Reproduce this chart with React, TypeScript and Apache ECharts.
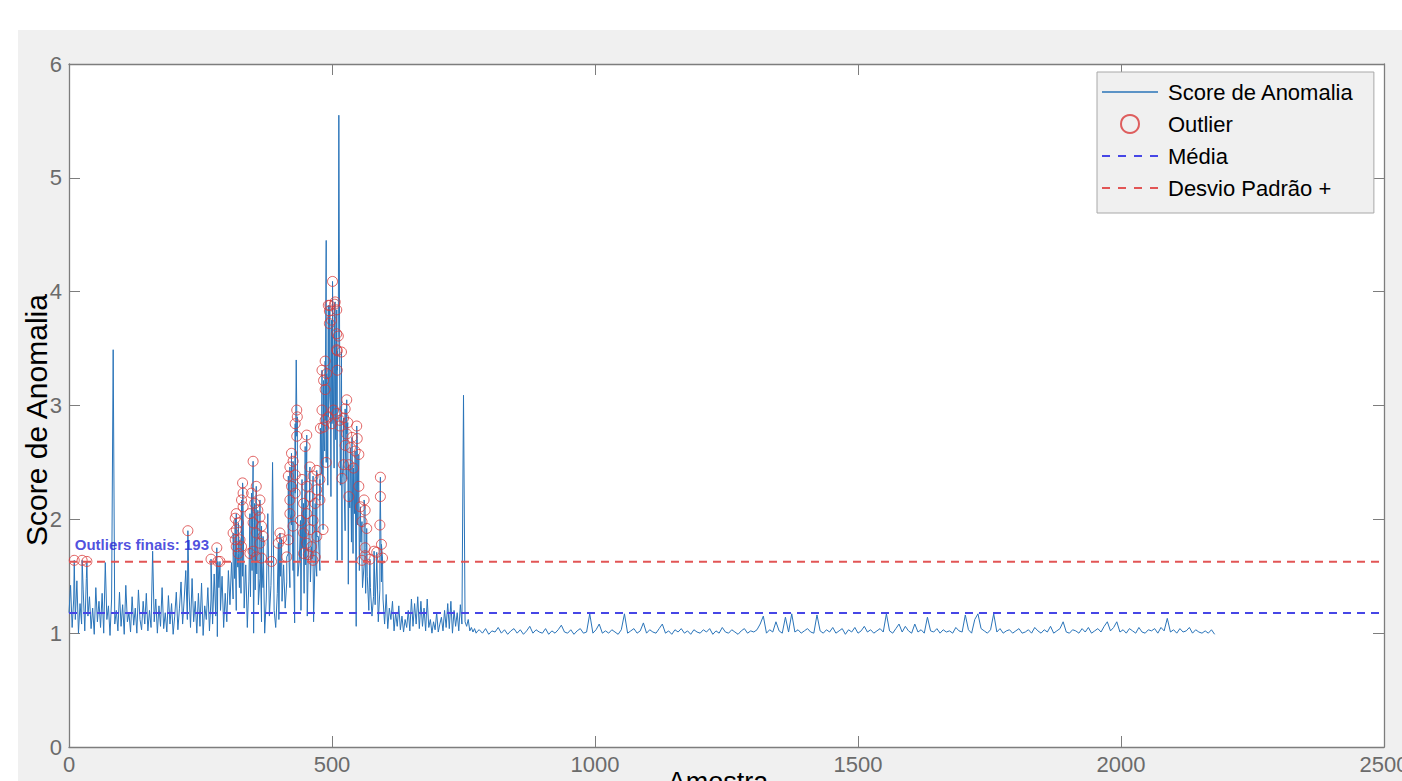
import React, { useEffect, useRef } from "react";
import * as echarts from "echarts";

// ---------- data ----------
const xTickValues = [0, 500, 1000, 1500, 2000, 2500];
const yTickValues = [0, 1, 2, 3, 4, 5, 6];

// Anomaly score, samples 0..777 (every 3rd sample)
const scoreEarlyStart = 0;
const scoreEarlyStep = 3;
const scoreEarly = [
  1.18, 1.42, 1.05, 1.30, 1.12, 1.46, 1.00, 1.26, 1.08, 1.38,
  1.02, 1.48, 1.15, 1.32, 1.04, 1.22, 0.99, 1.40, 1.10, 1.28,
  1.05, 1.35, 1.00, 1.62, 1.12, 1.24, 0.98, 1.30, 3.49, 1.08,
  1.20, 1.02, 1.36, 1.06, 1.25, 0.99, 1.42, 1.10, 1.18, 1.01,
  1.32, 1.07, 1.22, 1.00, 1.38, 1.12, 1.03, 1.28, 1.08, 1.35,
  1.02, 1.20, 1.05, 1.72, 1.10, 1.30, 1.00, 1.24, 1.06, 1.40,
  1.04, 1.18, 1.01, 1.33, 1.08, 1.26, 0.99, 1.15, 1.36, 1.03,
  1.22, 1.45, 1.08, 1.30, 1.55, 1.12, 1.38, 1.05, 1.48, 1.10,
  1.28, 1.00, 1.35, 1.06, 1.44, 0.98, 1.24, 1.12, 1.40, 1.02,
  1.30, 1.08, 1.52, 1.15, 0.97, 1.40, 1.20, 1.50, 1.05, 1.35,
  1.10, 1.55, 1.25, 1.62, 1.30, 1.48, 1.20, 1.58, 1.40, 1.35,
  1.50, 1.22, 1.60, 1.05, 1.45, 1.32, 1.55, 1.00, 1.38, 1.52,
  1.25, 1.48, 1.10, 1.40, 1.00, 1.30, 2.05, 1.15, 1.42, 2.50,
  1.20, 1.05, 1.35, 1.12, 1.50, 1.28, 1.60, 1.22, 1.45, 1.70,
  1.40, 1.95, 1.55, 1.09, 3.40, 1.50, 1.65, 1.20, 1.75, 1.35,
  1.60, 1.15, 1.80, 1.45, 1.65, 1.10, 1.70, 1.50, 1.85, 1.55,
  2.40, 1.95, 2.60, 4.45, 2.30, 3.10, 2.20, 2.90, 2.45, 2.70,
  1.64, 5.55, 2.30, 1.64, 2.50, 1.90, 2.35, 1.43, 2.10, 1.80,
  1.70, 2.05, 1.06, 1.95, 1.55, 1.80, 1.40, 1.60, 1.35, 1.50,
  1.20, 1.40, 1.15, 1.32, 1.25, 1.62, 1.10, 1.38, 1.45, 1.30,
  1.08, 1.34, 1.04, 1.22, 1.12, 1.28, 1.02, 1.18, 1.06, 1.24,
  1.03, 1.15, 1.01, 1.12, 1.05, 1.20, 1.02, 1.30, 1.06, 1.26,
  1.08, 1.32, 1.04, 1.28, 1.06, 1.22, 1.02, 1.30, 1.05, 1.12,
  1.00, 1.10, 1.03, 1.18, 1.01, 1.08, 1.14, 1.02, 1.20, 1.05,
  1.26, 1.04, 1.28, 1.00, 1.20, 1.06, 1.18, 1.02, 1.25, 1.08,
  3.09, 1.10, 1.06, 1.12, 1.02, 1.05, 1.01, 1.04, 1.00, 1.02,
];

// Anomaly score, samples 780..2178 (every 6th sample)
const scoreLateStart = 780;
const scoreLateStep = 6;
const scoreLate = [
  1.03, 1.00, 1.04, 0.99, 1.02, 1.01, 1.05, 1.00, 1.03, 0.99,
  1.02, 1.04, 1.00, 1.03, 0.99, 1.02, 1.06, 1.00, 1.03, 1.01,
  1.00, 1.04, 0.99, 1.02, 1.00, 1.03, 1.07, 1.01, 1.00, 1.03,
  0.99, 1.02, 1.04, 1.00, 1.01, 1.17, 1.00, 1.03, 1.08, 1.00,
  1.02, 1.00, 1.03, 1.01, 0.99, 1.03, 1.17, 1.00, 1.02, 1.04,
  1.00, 1.02, 1.09, 1.00, 1.03, 1.01, 1.00, 1.04, 1.08, 1.00,
  1.02, 0.99, 1.03, 1.01, 1.04, 1.00, 1.02, 0.99, 1.03, 1.01,
  1.00, 1.03, 1.01, 1.04, 0.99, 1.02, 1.00, 1.05, 1.01, 1.00,
  1.03, 1.01, 0.99, 1.02, 1.04, 1.00, 1.02, 1.01, 1.03, 1.08,
  1.15, 1.00, 1.03, 1.01, 1.10, 1.02, 1.00, 1.14, 1.01, 1.17,
  1.01, 1.03, 1.00, 1.02, 1.04, 1.01, 1.00, 1.16, 1.02, 1.00,
  1.03, 1.01, 1.05, 1.00, 1.02, 1.04, 0.99, 1.03, 1.01, 1.05,
  1.00, 1.02, 1.06, 1.01, 1.03, 1.00, 1.02, 1.04, 1.01, 1.17,
  1.02, 1.00, 1.04, 1.08, 1.01, 1.06, 1.02, 1.00, 1.08, 1.01,
  1.03, 1.00, 1.14, 1.02, 1.01, 1.04, 1.00, 1.03, 1.01, 1.02,
  1.00, 1.05, 1.02, 1.01, 1.16, 1.03, 1.00, 1.12, 1.17, 1.04,
  1.02, 1.00, 1.03, 1.17, 1.01, 1.04, 1.00, 1.02, 1.03, 1.00,
  1.02, 1.04, 1.00, 1.01, 1.03, 1.00, 1.05, 1.02, 1.00, 1.03,
  1.01, 1.06, 1.00, 1.02, 1.04, 1.10, 1.01, 1.00, 1.03, 1.02,
  1.00, 1.04, 1.01, 1.05, 1.00, 1.02, 1.04, 1.01, 1.06, 1.10,
  1.02, 1.05, 1.10, 1.01, 1.03, 1.00, 1.04, 1.02, 1.00, 1.05,
  1.01, 1.00, 1.03, 1.02, 1.04, 1.00, 1.05, 1.02, 1.13, 1.01,
  1.03, 1.00, 1.04, 1.01, 1.02, 1.05, 1.00, 1.03, 1.01, 1.00,
  1.02, 1.00, 1.03, 0.99,
];

// Outliers: [sample, score]
const outlierPoints: [number, number][] = [
  [10, 1.64], [25, 1.64], [34, 1.63], [226, 1.90], [270, 1.65], [281, 1.75], [283, 1.63], [287, 1.63],
  [312, 1.88], [316, 2.01], [316, 1.82], [318, 2.05], [318, 1.91], [318, 1.76], [322, 1.97], [322, 1.70],
  [325, 1.82], [328, 2.17], [328, 1.76], [330, 2.32], [331, 2.23], [331, 2.11],
  [344, 2.05], [344, 1.70], [347, 2.23], [350, 2.51], [350, 1.97], [350, 1.72], [353, 2.14], [356, 2.29],
  [356, 1.88], [356, 1.67], [359, 2.08], [363, 2.17], [363, 2.02], [363, 1.79], [366, 1.94], [366, 1.66],
  [369, 1.85],
  [385, 1.63], [398, 1.79], [401, 1.88], [404, 1.83], [414, 1.67],
  [417, 2.38], [417, 1.82], [420, 2.46], [420, 2.17], [420, 2.05], [423, 2.58], [423, 2.29], [426, 2.51],
  [426, 1.94], [430, 2.84], [430, 2.39], [430, 2.23], [433, 2.96], [433, 2.73], [434, 2.90],
  [440, 1.99], [443, 2.35], [446, 2.14], [446, 1.88], [446, 1.70], [449, 2.64], [452, 2.74], [452, 2.29],
  [452, 2.05], [452, 1.79], [455, 1.69], [458, 2.46], [458, 2.20], [458, 1.91], [461, 1.76], [464, 2.38],
  [464, 1.99], [464, 1.64], [468, 2.14], [468, 1.67], [471, 2.43], [471, 2.26], [471, 1.85], [477, 2.35],
  [477, 2.17], [478, 2.80], [481, 3.31], [481, 2.96], [483, 1.91], [484, 3.22], [484, 2.81], [487, 3.39],
  [487, 3.14], [487, 2.87], [489, 2.50], [490, 3.28], [493, 3.88], [493, 2.90], [495, 3.83], [495, 3.72],
  [496, 3.88], [499, 3.75], [500, 2.84], [501, 4.09], [503, 2.96], [505, 3.89], [506, 3.91], [509, 3.84],
  [509, 3.63], [509, 3.49], [509, 2.93], [510, 3.48], [510, 3.31], [512, 3.61], [515, 2.87], [515, 2.82],
  [518, 3.47],
  [519, 2.36], [522, 2.89], [522, 2.48], [525, 2.97], [525, 2.65], [528, 3.05], [528, 2.75], [530, 2.85],
  [532, 2.48], [532, 2.20], [535, 2.63], [538, 2.72], [541, 2.45], [544, 2.60], [547, 2.82], [548, 2.71],
  [551, 2.57], [551, 2.29], [554, 2.11], [557, 1.98], [557, 1.64], [561, 2.17], [563, 2.08], [563, 1.75],
  [563, 1.68], [566, 1.92],
  [572, 1.65], [580, 1.72], [585, 1.71], [591, 1.95], [592, 2.37], [592, 2.20], [594, 1.78], [596, 1.66],
];

const meanScore = 1.177;
const stdThreshold = 1.628;
const outlierCount = 193;
const annotationPoint: [number, number] = [10, 1.78];

const legendNames = ["Score de Anomalia", "Outlier", "Média", "Desvio Padrão +"];
const xAxisTitle = "Amostra";
const yAxisTitle = "Score de Anomalia";

// ---------- chart ----------
const FONT = "'Liberation Sans', Arial, Helvetica, sans-serif";
const AXIS_COLOR = "#7d7d7d";
const SOLID_ICON = "path://M0,0h56v1.6h-56z";
const DASH_ICON = "path://M0,0h8v2h-8zM16,0h8v2h-8zM32,0h8v2h-8zM48,0h8v2h-8z";

export default function App() {
  const ref = useRef<HTMLDivElement>(null);

  useEffect(() => {
    if (!ref.current) return;
    const chart = echarts.init(ref.current, undefined, { renderer: "svg" });
    const W = chart.getWidth();
    const H = chart.getHeight();

    const early = scoreEarly.map((v, i) => [scoreEarlyStart + i * scoreEarlyStep, v]);
    const late = scoreLate.map((v, i) => [scoreLateStart + i * scoreLateStep, v]);
    const lineData = [...early, ...outlierPoints.map((p) => [p[0], p[1]]), ...late].sort(
      (a, b) => a[0] - b[0]
    );

    const xMin = xTickValues[0];
    const xMax = xTickValues[xTickValues.length - 1];
    const xInt = xTickValues[1] - xTickValues[0];
    const yMin = yTickValues[0];
    const yMax = yTickValues[yTickValues.length - 1];
    const yInt = yTickValues[1] - yTickValues[0];

    const baseX = {
      type: "value",
      min: xMin,
      max: xMax,
      interval: xInt,
      splitLine: { show: false },
      axisLine: { show: true, onZero: false, lineStyle: { color: AXIS_COLOR, width: 1.3 } },
      axisTick: { show: true, inside: true, length: 11, lineStyle: { color: AXIS_COLOR, width: 1 } },
    };
    const baseY = {
      type: "value",
      min: yMin,
      max: yMax,
      interval: yInt,
      splitLine: { show: false },
      axisLine: { show: true, onZero: false, lineStyle: { color: AXIS_COLOR, width: 1.3 } },
      axisTick: { show: true, inside: true, length: 11, lineStyle: { color: AXIS_COLOR, width: 1 } },
    };
    const plainNumber = (v: number) => String(v);

    chart.setOption({
      animation: false,
      backgroundColor: "#f0f0f0",
      textStyle: { fontFamily: FONT },
      graphic: [
        { type: "rect", silent: true, shape: { x: 0, y: 0, width: W, height: 30 }, style: { fill: "#ffffff" } },
        { type: "rect", silent: true, shape: { x: 0, y: 0, width: 18, height: H }, style: { fill: "#ffffff" } },
        {
          type: "text",
          x: 36,
          y: 420,
          rotation: Math.PI / 2,
          silent: true,
          style: {
            text: yAxisTitle,
            fontSize: 30,
            fontFamily: FONT,
            fill: "#000000",
            textAlign: "center",
            textVerticalAlign: "middle",
          },
        },
        {
          type: "text",
          x: 718,
          y: 768,
          silent: true,
          style: {
            text: xAxisTitle,
            fontSize: 27,
            fontFamily: FONT,
            fill: "#000000",
            textAlign: "center",
            textVerticalAlign: "top",
          },
        },
      ],
      grid: {
        left: 69,
        right: Math.max(0, W - 1384),
        top: 64,
        bottom: Math.max(0, H - 747),
        show: true,
        backgroundColor: "#ffffff",
        borderWidth: 0,
        containLabel: false,
        outerBoundsMode: "none",
      },
      legend: {
        data: [
          { name: legendNames[0], icon: SOLID_ICON },
          { name: legendNames[1] },
          { name: legendNames[2], icon: DASH_ICON },
          { name: legendNames[3], icon: DASH_ICON },
        ],
        orient: "vertical",
        left: 1097,
        top: 72,
        padding: [9, 20, 14, 5],
        itemWidth: 56,
        itemHeight: 18,
        itemGap: 10,
        backgroundColor: "#f0f0f0",
        borderColor: "#a8a8a8",
        borderWidth: 1,
        textStyle: { fontSize: 22, color: "#000000", lineHeight: 22, fontFamily: FONT, padding: [0, 0, 0, 5] },
      },
      xAxis: [
        {
          ...baseX,
          position: "bottom",
          axisLabel: {
            show: true,
            color: "#6b6b6b",
            fontSize: 22,
            margin: 6,
            fontFamily: FONT,
            formatter: plainNumber,
            showMaxLabel: true,
            showMinLabel: true,
          },
        },
        { ...baseX, position: "top", axisLabel: { show: false } },
      ],
      yAxis: [
        {
          ...baseY,
          position: "left",
          axisLabel: { show: true, color: "#6b6b6b", fontSize: 22, margin: 7, fontFamily: FONT, formatter: plainNumber },
        },
        { ...baseY, position: "right", axisLabel: { show: false } },
      ],
      series: [
        {
          name: legendNames[0],
          type: "line",
          data: lineData,
          symbol: "none",
          showSymbol: false,
          lineStyle: { color: "#2a74b9", width: 1 },
          itemStyle: { color: "#2a74b9" },
          z: 2,
        },
        {
          name: legendNames[1],
          type: "scatter",
          data: outlierPoints,
          symbol: "circle",
          symbolSize: 10,
          itemStyle: { color: "rgba(0,0,0,0)", borderColor: "#d93a3a", borderWidth: 1 },
          z: 3,
        },
        {
          name: legendNames[2],
          type: "line",
          data: [
            [xMin, meanScore],
            [xMax, meanScore],
          ],
          symbol: "none",
          lineStyle: { color: "#4646e6", width: 2, type: [8, 6] },
          itemStyle: { color: "#4646e6" },
          z: 4,
        },
        {
          name: legendNames[3],
          type: "line",
          data: [
            [xMin, stdThreshold],
            [xMax, stdThreshold],
          ],
          symbol: "none",
          lineStyle: { color: "#e25555", width: 2, type: [8, 6] },
          itemStyle: { color: "#e25555" },
          z: 4,
        },
        {
          name: "annotation",
          type: "scatter",
          data: [annotationPoint],
          symbolSize: 1,
          silent: true,
          itemStyle: { color: "rgba(0,0,0,0)" },
          label: {
            show: true,
            position: "right",
            distance: 0,
            formatter: `Outliers finais: ${outlierCount}`,
            color: "#2323d6",
            fontWeight: "bold",
            fontSize: 15,
            fontFamily: FONT,
          },
          z: 5,
        },
      ],
    });

    return () => {
      chart.dispose();
    };
  }, []);

  return (
    <div
      ref={ref}
      style={{ position: "fixed", left: 0, top: 0, width: 1402, height: 781 }}
    />
  );
}
